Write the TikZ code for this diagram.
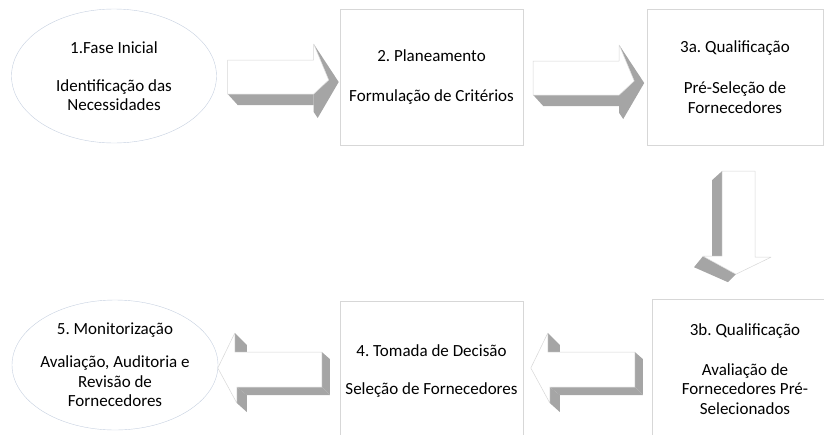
\documentclass[tikz,border=0pt]{standalone}
\usepackage{fontspec}
\setmainfont{Carlito}
\usepackage{tikz}
\definecolor{boxline}{RGB}{215,215,215}
\definecolor{ellline}{RGB}{198,208,224}
\definecolor{face}{RGB}{165,165,165}
\usetikzlibrary{shapes}
\usetikzlibrary{shadows}
\usetikzlibrary{calc}
\tikzset{fase/.style={ellipse,draw=ellline,fill=white,inner sep=-6pt,align=center,font=\fontsize{17}{19.5}\selectfont}}
\tikzset{bloco/.style={rectangle,draw=boxline,fill=white,inner sep=0pt,align=center,font=\fontsize{17}{19.5}\selectfont,drop shadow={shadow xshift=1.2pt,shadow yshift=-1.2pt,opacity=0.12}}}
\tikzset{frente/.style={fill=white,draw=boxline,line width=0.5pt,line join=round}}
\tikzset{lado/.style={fill=face,draw=none}}
\frenchspacing

\begin{document}
\begin{tikzpicture}[x=1pt,y=-1pt]
  \useasboundingbox (0,0) rectangle (824,434);
  \clip (0,0) rectangle (824,434);

  % Etapas
  \node[fase,minimum width=205pt,minimum height=134pt] (n1) at (114,76) {1.Fase Inicial\\[18.5pt]Identificação das\\Necessidades};
  \node[bloco,minimum width=183pt,minimum height=136pt] (n2) at (431.5,77) {2. Planeamento\\[20.5pt]Formulação de Critérios};
  \node[bloco,minimum width=176pt,minimum height=136pt] (n3a) at (735,77) {3a. Qualificação\\[21.5pt]Pré-Seleção de\\Fornecedores};
  \node[bloco,minimum width=186pt,minimum height=140pt] (n3b) at (745,369) {3b. Qualificação\\[20.5pt]Avaliação de\\Fornecedores Pré-\\Selecionados};
  \node[bloco,minimum width=183pt,minimum height=140pt] (n4) at (431.5,371) {4. Tomada de Decisão\\[18.5pt]Seleção de Fornecedores};
  \node[fase,minimum width=206pt,minimum height=130pt] (n5) at (115,365) {5. Monitorização\\[13.5pt]Avaliação, Auditoria e\\Revisão de\\Fornecedores};

  % Setas para a direita
  \foreach \a/\d in {n1/11,n2/10}
  {
    \begin{scope}[shift={($(\a.east)+(\d,1)$)}]
      \fill[lado] (0,17) -- (86,17) -- (86,28) -- (10,28) -- cycle;
      \fill[lado] (86,-33) -- (111,5) -- (90,41) -- (86,35) -- (86,17) -- (101,3) -- cycle;
      \draw[frente] (0,-17) -- (86,-17) -- (86,-33) -- (101,3) -- (86,17) -- (0,17) -- cycle;
    \end{scope}
  }

  % Seta para baixo
  \begin{scope}[shift={($(n3a.south)+(3,26)$)}]
    \fill[lado] (-26,9) -- (-16,0) -- (-16,85) -- (-26,85) -- cycle;
    \fill[lado] (-35,85) -- (-2,103) -- (-10,111) -- (-44,96) -- cycle;
    \draw[frente] (-16,0) -- (17,0) -- (17,86) -- (33,86) -- (-2,103) -- (-35,85) -- (-16,85) -- cycle;
  \end{scope}

  % Setas para a esquerda
  \foreach \a/\d in {n4/18,n3b/17}
  {
    \begin{scope}[shift={($(\a.west|-n4.west)+(-\d,-1.5)$)}]
      \fill[lado] (0,-17.5) -- (8,-10.5) -- (8,25.5) -- (0,17.5) -- cycle;
      \fill[lado] (-85,17.5) -- (0,17.5) -- (8,25.5) -- (-75,25.5) -- cycle;
      \fill[lado] (-87,-36.5) -- (-75,-24.5) -- (-75,-17.5) -- (-87,-17.5) -- cycle;
      \fill[lado] (-85,17.5) -- (-75,25.5) -- (-75,42.5) -- (-85,33.5) -- cycle;
      \draw[frente] (0,-17.5) -- (0,17.5) -- (-85,17.5) -- (-85,33.5) -- (-104,-1.5) -- (-87,-36.5) -- (-87,-17.5) -- cycle;
    \end{scope}
  }
\end{tikzpicture}
\end{document}
